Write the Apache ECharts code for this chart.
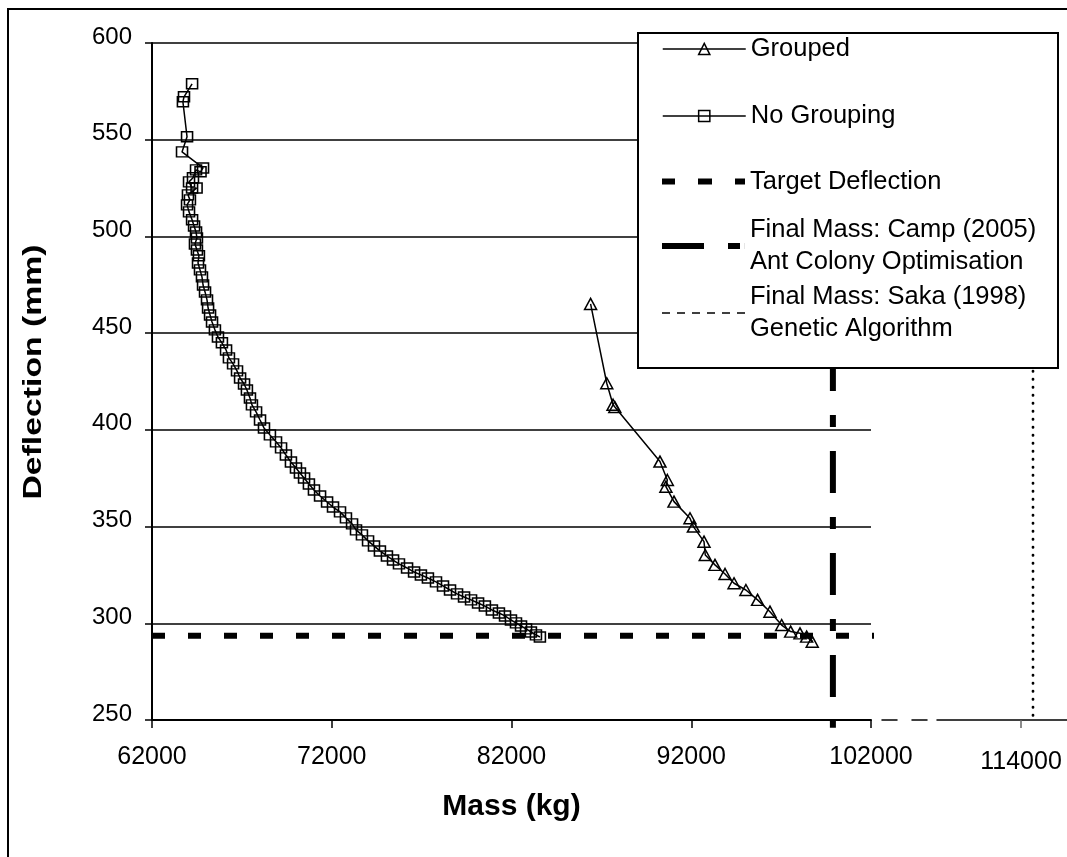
<!DOCTYPE html>
<html>
<head>
<meta charset="utf-8">
<title>Deflection vs Mass</title>
<script src="https://cdn.jsdelivr.net/npm/echarts@6/dist/echarts.min.js"></script>
<style>
  html, body { margin: 0; padding: 0; background: #fff; }
  #chart { width: 1067px; height: 857px; }
</style>
</head>
<body>
<div id="chart"></div>
<script>
// Convergence history of the two optimisation runs: mass (kg) vs deflection (mm)
const FONT = '"Liberation Sans", Arial, sans-serif';

// x-axis tick labels (main range and the broken-axis range)
const massTicks = [62000, 72000, 82000, 92000, 102000];
const brokenMassTicks = [114000];

// "Grouped" run
const groupedMass = [86400, 87300, 87650, 87750, 90260, 90670, 90590, 91040, 91930, 92120,
  92710, 92780, 93320, 93880, 94380, 95040, 95690, 96380, 97030, 97530, 98050, 98420, 98730];
const groupedDefl = [465.1, 424.1, 413.0, 411.8, 383.6, 374.1, 370.6, 362.9, 354.3, 350.0,
  342.2, 335.3, 330.2, 325.5, 320.7, 317.2, 312.1, 306.0, 299.1, 295.7, 294.8, 293.1, 290.5];

// "No Grouping" run
const noGroupMass = [64230, 63780, 63720, 63950, 63670, 64840, 64700, 64450, 64280, 64060,
  64230, 64480, 64000, 64110, 63950, 64060, 64230, 64340, 64450, 64500,
  64390, 64500, 64610, 64560, 64670, 64780, 64840, 64950, 65060, 65120,
  65230, 65340, 65500, 65670, 65890, 66120, 66280, 66510, 66730, 66900,
  67120, 67280, 67450, 67560, 67790, 68010, 68230, 68560, 68900, 69180,
  69450, 69730, 70010, 70230, 70460, 70730, 71010, 71350, 71740, 72070,
  72460, 72790, 73130, 73350, 73680, 74020, 74350, 74680, 75070, 75410,
  75740, 76190, 76580, 76960, 77350, 77800, 78190, 78580, 78970, 79360,
  79750, 80140, 80520, 80910, 81300, 81640, 81970, 82250, 82530, 82810,
  83080, 83360, 83580];
const noGroupDefl = [578.9, 572.2, 569.6, 551.5, 543.7, 535.4, 533.4, 534.4, 530.3, 528.2,
  525.0, 525.0, 521.5, 518.9, 516.3, 512.7, 508.6, 505.4, 502.3, 499.2,
  496.1, 493.0, 490.0, 486.3, 482.7, 479.1, 474.9, 471.3, 467.2, 463.0,
  459.4, 455.8, 451.7, 448.0, 445.0, 441.3, 437.2, 434.1, 430.5, 426.8,
  423.7, 420.6, 416.5, 412.9, 409.3, 405.1, 401.0, 397.4, 393.8, 390.7,
  387.0, 383.4, 380.3, 377.7, 375.1, 372.0, 368.9, 365.8, 362.7, 360.1,
  357.6, 354.5, 351.4, 348.3, 345.7, 342.6, 340.0, 337.4, 334.8, 332.7,
  330.7, 328.6, 326.5, 325.0, 323.4, 321.4, 319.3, 317.2, 315.2, 313.6,
  312.1, 310.5, 308.9, 306.9, 305.3, 303.8, 301.7, 300.2, 298.6, 297.1,
  295.5, 294.0, 292.9];

// Reference lines
const targetDeflection = 293.5;
const targetMassSpan = [62000, 102800];
const campMass = 99880;
const campDeflSpan = [600, 246];
const sakaMass = 115000;
const sakaDeflSpan = [600, 250];

const names = [
  'Grouped',
  'No Grouping',
  'Target Deflection',
  'Final Mass: Camp (2005)\nAnt Colony Optimisation',
  'Final Mass: Saka (1998)\nGenetic Algorithm'
];

const pairs = (xs, ys) => xs.map((x, i) => [x, ys[i]]);

const hollow = { color: 'rgba(0,0,0,0)', borderColor: '#000', borderWidth: 1.5 };
const thinLine = { color: '#000', width: 1.5 };

const legendBase = {
  left: 662, orient: 'vertical', padding: 0, itemWidth: 83, selectedMode: false, z: 6
};
const legendText = (extra) => Object.assign({ fontFamily: FONT, fontSize: 25.5, color: '#000' }, extra || {});

const chart = echarts.init(document.getElementById('chart'), null, { renderer: 'canvas' });

chart.setOption({
  animation: false,
  backgroundColor: '#fff',
  grid: [
    { left: 152, top: 43, width: 719, height: 677, containLabel: false, outerBoundsMode: 'none' },
    { left: 882, top: 43, width: 45, height: 677, containLabel: false, outerBoundsMode: 'none' },
    { left: 937, top: 43, width: 132, height: 677, containLabel: false, outerBoundsMode: 'none' }
  ],
  xAxis: [
    {
      type: 'value', gridIndex: 0, min: 62000, max: 102000,
      axisLine: { show: true, onZero: false, lineStyle: { color: '#000', width: 2 } },
      axisTick: { show: true, customValues: massTicks, length: 8, lineStyle: { color: '#000', width: 1.5 } },
      axisLabel: { customValues: massTicks, margin: 25, fontFamily: FONT, fontSize: 25, color: '#000',
        formatter: (v) => String(v) },
      splitLine: { show: false },
      name: 'Mass (kg)', nameLocation: 'middle', nameGap: 72,
      nameTextStyle: { fontFamily: FONT, fontSize: 30, fontWeight: 'bold', color: '#000' }
    },
    {
      type: 'value', gridIndex: 1, min: 0, max: 1,
      axisLine: { show: true, onZero: false, lineStyle: { color: '#000', width: 1.5, type: [15, 15] } },
      axisTick: { show: false }, axisLabel: { show: false }, splitLine: { show: false }
    },
    {
      type: 'value', gridIndex: 2, min: 107000, max: 118000,
      axisLine: { show: true, onZero: false, lineStyle: { color: '#000', width: 1.5 } },
      axisTick: { show: true, customValues: brokenMassTicks, length: 8, lineStyle: { color: '#666', width: 1.5 } },
      axisLabel: { customValues: brokenMassTicks, margin: 30, fontFamily: FONT, fontSize: 25, color: '#000',
        formatter: (v) => String(v) },
      splitLine: { show: false }
    }
  ],
  yAxis: [
    {
      type: 'value', gridIndex: 0, min: 250, max: 600, interval: 50,
      axisLine: { show: true, onZero: false, lineStyle: { color: '#000', width: 2 } },
      axisTick: { show: true, length: 7, lineStyle: { color: '#000', width: 1.5 } },
      axisLabel: { margin: 20, fontFamily: FONT, fontSize: 24, color: '#000',
        verticalAlign: 'bottom', lineHeight: 12 },
      splitLine: { show: true, lineStyle: { color: '#000', width: 1.6 } }
    },
    { type: 'value', gridIndex: 1, min: 250, max: 600, show: false },
    { type: 'value', gridIndex: 2, min: 250, max: 600, show: false }
  ],
  legend: [
    Object.assign({}, legendBase, {
      data: [names[0]], top: 36, itemHeight: 14,
      itemStyle: hollow, lineStyle: thinLine,
      textStyle: legendText({ padding: [0, 0, 9, 0] })
    }),
    Object.assign({}, legendBase, {
      data: [names[1]], top: 103, itemHeight: 14,
      itemStyle: hollow, lineStyle: thinLine,
      textStyle: legendText({ padding: [0, 0, 12, 0] })
    }),
    Object.assign({}, legendBase, {
      data: [{ name: names[2], icon: 'path://M0,0h13v6h-13zM36,0h14v6h-14zM73,0h10v6h-10z' }],
      top: 168.5, itemHeight: 6, itemStyle: { color: '#000', borderWidth: 0 },
      textStyle: legendText({ padding: [0, 0, 2, 0] })
    }),
    Object.assign({}, legendBase, {
      data: [{ name: names[3], icon: 'path://M0,0h42v6h-42zM66,0h12v6h-12zM82.9,0h0.1v6h-0.1z' }],
      top: 200, itemHeight: 6, itemStyle: { color: '#000', borderWidth: 0 },
      textStyle: legendText({ lineHeight: 32, padding: [28, 0, 0, 0] })
    }),
    Object.assign({}, legendBase, {
      data: [{ name: names[4], icon: 'path://M0,0h8v1.5h-8zM15,0h8v1.5h-8zM30,0h8v1.5h-8zM45,0h8v1.5h-8zM60,0h8v1.5h-8zM75,0h8v1.5h-8z' }],
      top: 269.5, itemHeight: 1.5, itemStyle: { color: '#000', borderWidth: 0 },
      textStyle: legendText({ lineHeight: 32, padding: [23, 0, 0, 0] })
    })
  ],
  graphic: [
    { type: 'rect', z: 0, silent: true, shape: { x: 8, y: 9, width: 1100, height: 900 },
      style: { fill: 'transparent', stroke: '#000', lineWidth: 2 } },
    { type: 'rect', z: 5, silent: true, shape: { x: 638, y: 33, width: 420, height: 335 },
      style: { fill: '#fff', stroke: '#000', lineWidth: 2 } },
    { type: 'text', z: 5, silent: true, x: 34, y: 372, rotation: Math.PI / 2, scaleX: 1.35,
      style: { text: 'Deflection (mm)', font: 'bold 25px "Liberation Sans", Arial, sans-serif',
        fill: '#000', align: 'center', verticalAlign: 'middle' } }
  ],
  series: [
    {
      name: names[0], type: 'line', xAxisIndex: 0, yAxisIndex: 0,
      data: pairs(groupedMass, groupedDefl),
      symbol: 'triangle', symbolSize: [12, 11],
      lineStyle: thinLine, itemStyle: hollow, emphasis: { disabled: true }
    },
    {
      name: names[1], type: 'line', xAxisIndex: 0, yAxisIndex: 0,
      data: pairs(noGroupMass, noGroupDefl),
      symbol: 'rect', symbolSize: [11, 10],
      lineStyle: thinLine, itemStyle: hollow, emphasis: { disabled: true }
    },
    {
      name: names[2], type: 'line', xAxisIndex: 0, yAxisIndex: 0, clip: false,
      data: targetMassSpan.map((m) => [m, targetDeflection]),
      symbol: 'none', lineStyle: { color: '#000', width: 6, type: [13, 23] },
      itemStyle: { color: '#000' }, emphasis: { disabled: true }
    },
    {
      name: names[3], type: 'line', xAxisIndex: 0, yAxisIndex: 0, clip: false,
      data: campDeflSpan.map((d) => [campMass, d]),
      symbol: 'none', lineStyle: { color: '#000', width: 6, type: [42, 24, 12, 24] },
      itemStyle: { color: '#000' }, emphasis: { disabled: true }
    },
    {
      name: names[4], type: 'line', xAxisIndex: 2, yAxisIndex: 2, clip: false,
      data: sakaDeflSpan.map((d) => [sakaMass, d]),
      symbol: 'none', lineStyle: { color: '#000', width: 2.7, type: [0.5, 7.5], cap: 'round' },
      itemStyle: { color: '#000' }, emphasis: { disabled: true }
    }
  ]
});
</script>
</body>
</html>
